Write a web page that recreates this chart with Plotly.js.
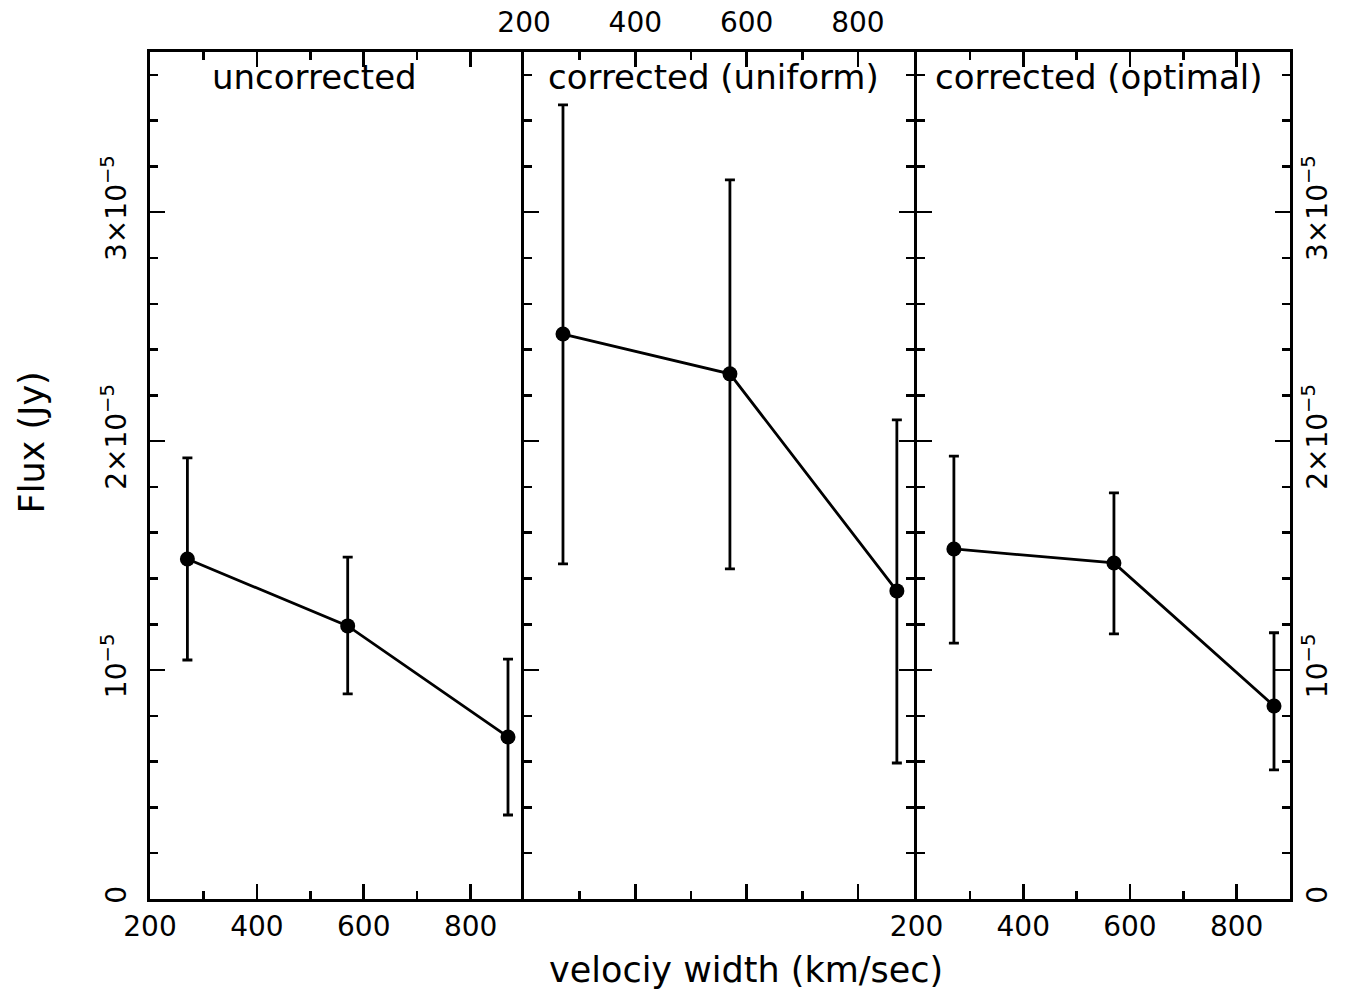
<!DOCTYPE html>
<html><head><meta charset="utf-8">
<script src="https://cdn.plot.ly/plotly-3.0.1.min.js"></script>
<style>html,body{margin:0;padding:0;background:#fff}#plot{width:1348px;height:994px}</style>
</head><body><div id="plot"></div>
<script>
const velocity = [270, 570, 870];
const panelTitles = ['uncorrected', 'corrected (uniform)', 'corrected (optimal)'];
const fluxUncorrected = [1.485e-5, 1.193e-5, 0.708e-5];
const errPlusUncorrected = [0.442e-5, 0.300e-5, 0.340e-5];
const errMinusUncorrected = [0.441e-5, 0.297e-5, 0.341e-5];
const fluxUniform = [2.468e-5, 2.294e-5, 1.346e-5];
const errPlusUniform = [1.001e-5, 0.847e-5, 0.747e-5];
const errMinusUniform = [1.004e-5, 0.852e-5, 0.752e-5];
const fluxOptimal = [1.529e-5, 1.468e-5, 0.843e-5];
const errPlusOptimal = [0.406e-5, 0.306e-5, 0.320e-5];
const errMinusOptimal = [0.411e-5, 0.310e-5, 0.279e-5];
const yTickVals = [0, 1e-5, 2e-5, 3e-5];
const yTickText = ['0', '10<sup>−5</sup>', '2×10<sup>−5</sup>', '3×10<sup>−5</sup>'];
const xTickVals = [200, 400, 600, 800];
const xTickText = ['200', '400', '600', '800'];
const xAxisTitle = 'velociy width (km/sec)';
const yAxisTitle = 'Flux (Jy)';

const FONT = 'DejaVu Sans, sans-serif';
function trace(y, ep, em, xa, ya) {
  return {
    x: velocity, y: y, xaxis: xa, yaxis: ya, type: 'scatter', mode: 'lines+markers',
    line: {color: '#000', width: 2.8},
    marker: {color: '#000', size: 15},
    error_y: {type: 'data', symmetric: false, array: ep, arrayminus: em, color: '#000', thickness: 2.8, width: 5},
    showlegend: false, hoverinfo: 'skip'
  };
}
const data = [
  trace(fluxUncorrected, errPlusUncorrected, errMinusUncorrected, 'x', 'y'),
  trace(fluxUniform, errPlusUniform, errMinusUniform, 'x2', 'y2'),
  trace(fluxOptimal, errPlusOptimal, errMinusOptimal, 'x3', 'y3')
];
function xax(domain, anchor, side, labels, standoff) {
  return {
    domain: domain, anchor: anchor, side: side, range: [200, 900],
    tickmode: 'array', tickvals: xTickVals, ticktext: xTickText,
    showticklabels: labels, ticks: 'inside', ticklen: 15, tickwidth: 2.5, tickcolor: '#000',
    minor: {tickmode: 'linear', tick0: 0, dtick: 100, ticks: 'inside', ticklen: 8, tickwidth: 2.5, tickcolor: '#000'},
    showline: true, linewidth: 3, linecolor: '#000', mirror: 'ticks',
    showgrid: false, zeroline: false, fixedrange: true,
    tickfont: {family: FONT, size: 28, color: '#000'}, ticklabelstandoff: standoff
  };
}
function yax(anchor, side, labels, mirror, standoff) {
  return {
    anchor: anchor, side: side, range: [0, 3.7e-5],
    tickmode: 'array', tickvals: yTickVals, ticktext: yTickText,
    showticklabels: labels, tickangle: -90, ticks: 'inside', ticklen: 15, tickwidth: 2.5, tickcolor: '#000',
    minor: {tickmode: 'linear', tick0: 0, dtick: 2e-6, ticks: 'inside', ticklen: 8, tickwidth: 2.5, tickcolor: '#000'},
    showline: true, linewidth: 3, linecolor: '#000', mirror: mirror,
    showgrid: false, zeroline: false, fixedrange: true,
    tickfont: {family: FONT, size: 28, color: '#000'}, ticklabelstandoff: standoff
  };
}
const half = 1.5 / 1140;
const d1 = [0, 0.3281], d2 = [0.3281, 0.6711 - half], d3 = [0.6711 + half, 1];
const titleX = [0.1447, 0.4939, 0.8316];
const annotations = panelTitles.map((t, i) => ({
  text: t, xref: 'paper', yref: 'paper', x: titleX[i], y: 0.9705,
  xanchor: 'center', yanchor: 'middle', showarrow: false,
  font: {family: FONT, size: 34, color: '#000'}
}));
annotations.push({text: xAxisTitle, xref: 'paper', yref: 'paper', x: 0.5228, y: -0.0838,
  xanchor: 'center', yanchor: 'middle', showarrow: false, font: {family: FONT, size: 35, color: '#000'}});
annotations.push({text: yAxisTitle, xref: 'paper', yref: 'paper', x: -0.1035, y: 0.539, textangle: -90,
  xanchor: 'center', yanchor: 'middle', showarrow: false, font: {family: FONT, size: 35, color: '#000'}});

const layout = {
  width: 1348, height: 994,
  margin: {l: 150, r: 58, t: 52, b: 95},
  paper_bgcolor: '#fff', plot_bgcolor: '#fff',
  font: {family: FONT, color: '#000'},
  xaxis: xax(d1, 'y', 'bottom', true, 0),
  xaxis2: xax(d2, 'y2', 'top', true, 6),
  xaxis3: xax(d3, 'y3', 'bottom', true, 0),
  yaxis: yax('x', 'left', true, false, 10),
  yaxis2: yax('x2', 'left', false, 'ticks', 0),
  yaxis3: yax('x3', 'right', true, 'ticks', 0),
  annotations: annotations
};
Plotly.newPlot('plot', data, layout, {displayModeBar: false, staticPlot: true});
</script></body></html>
